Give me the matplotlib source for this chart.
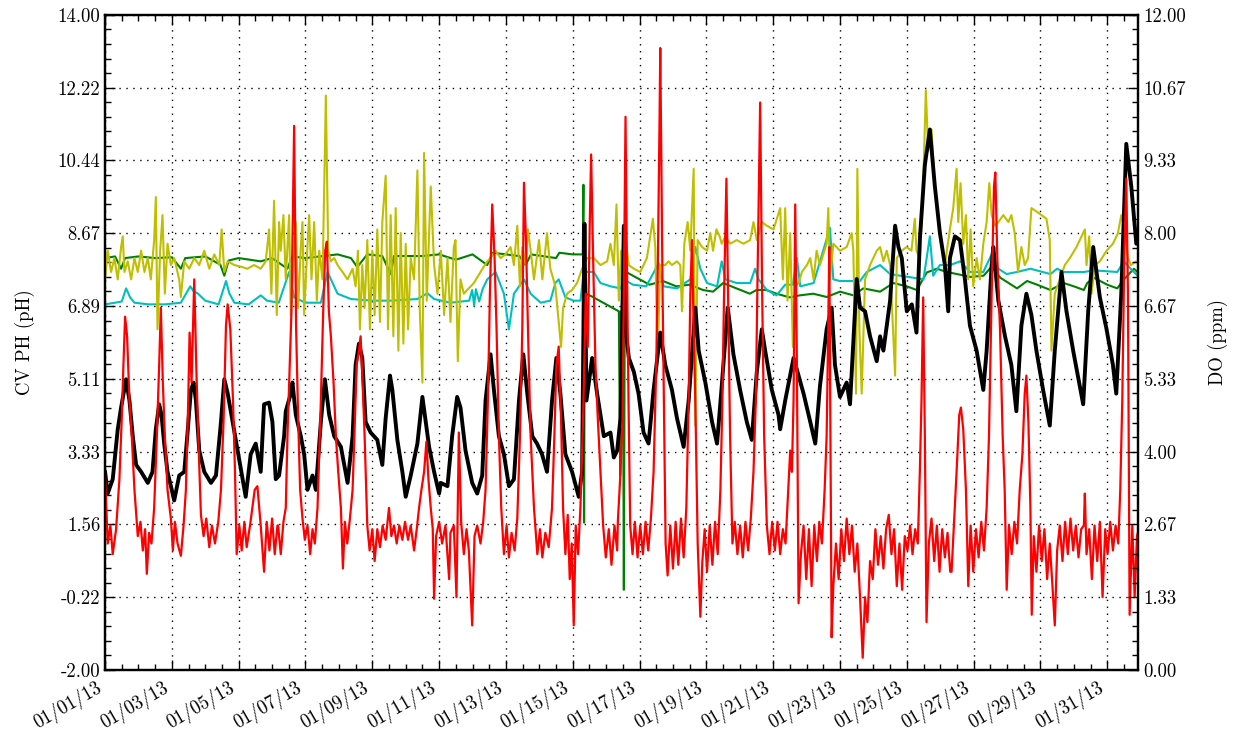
import numpy as np
import matplotlib
matplotlib.use('Agg')
import matplotlib.pyplot as plt
import matplotlib.dates as mdates
from matplotlib.ticker import FixedLocator, FuncFormatter, AutoMinorLocator

plt.rcParams['font.family'] = 'serif'
plt.rcParams['font.serif'] = ['cmr10', 'DejaVu Serif']
plt.rcParams['axes.unicode_minus'] = False
plt.rcParams['axes.formatter.use_mathtext'] = False

# series readings: days since 2013-01-01 00:00, values in left-axis units
red_t = [0.0, 0.08, 0.16, 0.23, 0.33, 0.43, 0.5, 0.55, 0.6, 0.66, 0.73, 0.8, 0.88, 0.98, 1.06, 1.13, 1.2, 1.25, 1.32, 1.39,
         1.47, 1.55, 1.62, 1.67, 1.73, 1.79, 1.87, 1.97, 2.03, 2.09, 2.17, 2.27, 2.35, 2.42, 2.49, 2.53, 2.59, 2.67, 2.73, 2.79,
         2.87, 2.95, 3.03, 3.12, 3.2, 3.29, 3.39, 3.47, 3.55, 3.62, 3.67, 3.75, 3.83, 3.89, 3.94, 4.02, 4.09, 4.17, 4.24, 4.34,
         4.41, 4.48, 4.56, 4.66, 4.76, 4.84, 4.92, 5.0, 5.08, 5.16,
         5.18, 5.26, 5.34, 5.41, 5.46, 5.53, 5.58, 5.66, 5.72, 5.78, 5.84, 5.91, 5.98, 6.06, 6.14, 6.21, 6.28, 6.36, 6.46, 6.53,
         6.59, 6.64, 6.7, 6.76, 6.84, 6.91, 6.98, 7.06, 7.12, 7.18, 7.25, 7.33, 7.41, 7.47, 7.53, 7.6, 7.65, 7.71, 7.77, 7.85,
         7.92, 8.0, 8.07, 8.15, 8.23, 8.31, 8.4, 8.5, 8.57, 8.65, 8.73, 8.81, 8.9, 8.98, 9.07, 9.15, 9.25, 9.33, 9.4, 9.47,
         9.55, 9.62, 9.68, 9.75, 9.81, 9.85, 9.91, 10.0, 10.09, 10.19, 10.3,
         10.34, 10.44, 10.52, 10.59, 10.66, 10.74, 10.82, 10.89, 10.99, 11.06, 11.14, 11.24, 11.32, 11.39, 11.46, 11.52, 11.59,
         11.66, 11.72, 11.79, 11.86, 11.94, 12.02, 12.09, 12.17, 12.26, 12.34, 12.42, 12.49, 12.54, 12.6, 12.66, 12.74, 12.84,
         12.94, 13.02, 13.09, 13.18, 13.28, 13.38, 13.45, 13.51, 13.58, 13.65, 13.71, 13.78, 13.85, 13.91, 13.97, 14.03, 14.09,
         14.16, 14.23, 14.31, 14.39, 14.45, 14.51, 14.55, 14.61, 14.68, 14.75, 14.83, 14.91, 14.99, 15.08, 15.16, 15.25, 15.33,
         15.35, 15.43, 15.49, 15.53, 15.58, 15.62, 15.67, 15.72, 15.79, 15.86, 15.94, 16.02, 16.1, 16.18, 16.26, 16.34, 16.42,
         16.5, 16.55, 16.6, 16.62, 16.69, 16.74, 16.78, 16.84, 16.92, 17.0, 17.08, 17.16, 17.24, 17.32, 17.4, 17.47, 17.52,
         17.57, 17.62, 17.67, 17.74, 17.82, 17.88, 17.95, 18.02, 18.1, 18.18, 18.26, 18.34, 18.42, 18.48, 18.53, 18.6, 18.65,
         18.71, 18.78, 18.85, 18.93, 19.01, 19.09, 19.17, 19.25, 19.33, 19.41, 19.48, 19.54, 19.61, 19.67, 19.73, 19.81, 19.89,
         19.97, 20.05, 20.13, 20.21, 20.29, 20.37, 20.45, 20.51,
         20.56, 20.61, 20.66, 20.71, 20.76, 20.83, 20.91, 20.99, 21.07, 21.15, 21.23, 21.31, 21.38, 21.46, 21.54, 21.6, 21.64,
         21.68, 21.72, 21.75, 21.8, 21.88, 21.96, 22.04, 22.12, 22.2, 22.28, 22.36, 22.44, 22.52, 22.6, 22.68, 22.75, 22.82,
         22.9, 22.98, 23.06, 23.14, 23.22, 23.3, 23.38, 23.46, 23.54, 23.62, 23.7, 23.78, 23.86, 23.94, 24.02, 24.1, 24.17,
         24.25, 24.33, 24.39, 24.44, 24.49, 24.54, 24.59, 24.66, 24.74, 24.82, 24.9, 24.98, 25.06, 25.14, 25.22, 25.3,
         25.34, 25.41, 25.49, 25.57, 25.62, 25.69, 25.77, 25.84, 25.91, 25.99, 26.07, 26.15, 26.23, 26.31, 26.39, 26.46, 26.54,
         26.61, 26.65, 26.71, 26.79, 26.87, 26.93, 26.99, 27.06, 27.14, 27.22, 27.3, 27.38, 27.46, 27.53, 27.58, 27.64, 27.7,
         27.74, 27.8, 27.88, 27.96, 28.04, 28.12, 28.2, 28.28, 28.36, 28.43, 28.5, 28.58, 28.66, 28.74, 28.82, 28.9, 28.98,
         29.06, 29.14, 29.22, 29.3, 29.33, 29.38, 29.46, 29.54, 29.62, 29.7, 29.78, 29.86, 29.94, 30.01, 30.09, 30.17, 30.25,
         30.33, 30.39, 30.45, 30.51, 30.57, 30.62, 30.67, 30.75, 30.82, 30.89, 30.97]
red_v = [2.75, 1.09, 1.53, 0.83, 1.44, 2.66, 4.15, 5.45, 6.63, 6.15, 4.58, 3.71, 2.4, 1.27, 1.62, 0.92, 1.44, 0.35, 1.35, 1.09,
         1.96, 3.71, 5.45, 6.85, 5.02, 3.71, 2.4, 1.7, 0.92, 1.62, 1.09, 0.79, 1.53, 2.4, 4.58, 6.24, 5.02, 7.54, 5.45, 3.71,
         1.79, 1.27, 1.7, 1.0, 1.53, 1.09, 1.62, 2.4, 4.15, 6.41, 6.93, 6.32, 4.58, 2.84, 0.83, 1.53, 0.92, 1.62, 1.0, 1.53,
         1.96, 2.4, 2.49, 1.53, 0.4, 1.62, 0.92, 1.7, 0.83, 1.53,
         1.53, 0.83, 1.62, 1.96, 3.71, 5.45, 6.76, 11.29, 6.32, 4.15, 2.4, 1.7, 1.18, 1.53, 0.83, 1.44, 1.09, 1.96, 4.58, 6.76,
         8.24, 8.46, 6.76, 6.15, 5.02, 3.71, 2.84, 1.96, 0.48, 1.62, 1.09, 1.7, 2.4, 3.88, 5.45, 5.8, 6.15, 5.02, 3.71, 1.53,
         0.92, 1.44, 0.66, 1.44, 1.0, 1.53, 1.18, 1.96, 1.27, 1.53, 1.09, 1.53, 1.18, 1.62, 1.18, 1.53, 0.92, 1.44, 1.96, 2.4,
         2.84, 3.58, 2.66, 1.96, 1.44, -0.26, 1.27, 1.62, 1.09, 1.53, 0.22,
         1.35, 1.53, -0.22, 3.8, 1.62, 0.83, 1.44, 0.92, -0.91, 1.27, 1.53, 1.09, 1.62, 2.4, 4.58, 7.19, 9.37,
         8.06, 6.32, 3.71, 1.96, 0.83, 1.53, 0.75, 1.35, 0.92, 1.7, 3.71, 6.32, 9.9, 8.5, 6.32, 3.71, 1.96,
         0.83, 1.44, 0.75, 1.35, 1.0, 1.96, 3.71, 5.45, 5.9, 4.15, 1.96, 0.83, 1.79, 0.22, 1.09, -0.91, 1.53,
         0.83, 1.96, 4.15, 7.19, 5.89, 8.94, 10.59, 8.06, 5.45, 4.15, 2.84, 1.53, 0.75, 1.44, 0.57, 1.53, 0.92,
         1.62, 2.84, 4.15, 7.19, 11.51, 8.06, 4.58, 1.53, 0.83, 1.62, 0.75, 1.53, 0.83, 1.62, 0.92, 1.7, 2.84,
         5.45, 8.06, 11.55, 13.19, 7.19, 3.71, 1.09, 0.31, 1.53, 0.48, 1.62, 0.57, 1.7, 0.75, 1.96, 4.58, 7.19,
         8.5, 6.32, 4.58, 1.09, -0.7, 0.66, 1.44, 0.4, 1.53, 0.57, 1.62, 0.83, 2.4, 4.58, 7.19, 10.0, 7.19,
         3.71, 1.09, 1.62, 0.83, 1.53, 0.75, 1.62, 0.92, 1.7, 2.84, 4.58, 8.06, 11.86, 7.19, 3.71, 1.53, 0.83,
         1.62, 0.92, 1.62, 0.83, 1.44, 1.09, 2.4, 3.36,
         2.84, 4.58, 9.37, 5.45, -0.37, 0.83, 1.53, 0.22, 1.44, 0.05, 1.53, 0.66, 1.62, 1.09, 2.4, 3.71, 5.89,
         8.33, 2.84, -1.2, 0.05, 1.09, 0.22, 1.44, 0.66, 1.7, 0.83, 1.53, 0.4, 1.09, -0.22, -1.7, -0.22, -0.83,
         0.66, 0.22, 1.44, 0.57, 1.27, 0.48, 1.44, 1.79, 0.83, 1.44, 0.05, 1.09, -0.04, 1.27, 0.92, 1.53, 0.83,
         1.44, 1.09, 2.84, 4.58, 7.1, 3.71, -0.83, 1.09, 1.7, 0.66, 1.53, 0.4, 1.44, 0.75, 1.35, 0.4,
         0.4, 1.53, 2.84, 4.23, 4.41, 3.88, 2.4, 0.05, 1.53, 0.4, 1.44, 0.75, 1.62, 0.92, 1.96, 3.71, 7.19,
         9.81, 10.15, 8.06, 6.32, 3.71, 2.4, -0.04, 1.53, 0.83, 1.62, 1.09, 2.4, 3.27, 4.75, 5.19, 4.06, 1.96,
         -0.65, 1.27, 0.4, 1.53, 0.66, 1.44, 0.22, 1.09, 0.05, -0.91, 0.92, 1.53, 0.66, 1.62, 0.83, 1.7, 0.92,
         1.53, 0.75, 1.44, 1.53, 2.31, 0.83, 1.44, 0.22, 1.53, 0.66, 1.62, -0.22, 1.44, 0.83, 1.62, 0.92, 1.53,
         1.09, 2.4, 4.58, 8.06, 10.0, 7.19, -0.65, 1.53, -0.22, 1.27, 1.53]

black_t = [0.0, 0.08, 0.23, 0.38, 0.48, 0.63, 0.73, 0.83, 0.93, 1.08, 1.28, 1.42, 1.52, 1.62, 1.69, 1.77, 1.87, 2.07, 2.22,
           2.37, 2.47, 2.57, 2.65, 2.72, 2.82, 2.97, 3.17, 3.32, 3.47, 3.57, 3.67, 3.82, 3.97, 4.12, 4.21, 4.36, 4.51, 4.66,
           4.76, 4.91, 5.01, 5.11,
           5.21, 5.36, 5.41, 5.56, 5.61, 5.71, 5.86, 5.96, 6.06, 6.21, 6.31, 6.46, 6.58, 6.71, 6.86, 7.06, 7.26, 7.41, 7.5,
           7.6, 7.7, 7.8, 7.95, 8.15, 8.3, 8.4, 8.53, 8.6, 8.75, 8.9, 9.0, 9.15, 9.35, 9.5, 9.6, 9.7, 9.85, 10.0,
           10.05, 10.25, 10.39, 10.54, 10.64, 10.79, 10.99, 11.14, 11.29, 11.39, 11.54, 11.64, 11.79, 11.94, 12.09, 12.24,
           12.39, 12.52, 12.64, 12.79, 12.93, 13.08, 13.23, 13.38, 13.51, 13.63, 13.78, 13.98, 14.18, 14.28, 14.35, 14.41,
           14.58, 14.73, 14.93,
           15.13, 15.23, 15.33, 15.43, 15.53, 15.58, 15.68, 15.83, 15.97, 16.12, 16.27, 16.42, 16.62, 16.77, 16.97, 17.12,
           17.32, 17.47, 17.67, 17.77, 17.97, 18.17, 18.32, 18.46, 18.64, 18.81, 19.01, 19.21, 19.36, 19.51, 19.66, 19.76,
           19.96, 20.16,
           20.21, 20.36, 20.61, 20.76, 20.91, 21.11, 21.26, 21.4, 21.6, 21.75, 21.85, 22.0, 22.2, 22.3, 22.5, 22.6, 22.75,
           22.9, 23.1, 23.2, 23.3, 23.5, 23.65, 23.75, 23.85, 24.0, 24.15, 24.29, 24.39, 24.54, 24.69, 24.84, 24.99, 25.14,
           25.24,
           25.29, 25.44, 25.59, 25.74, 25.89, 26.09, 26.29, 26.39, 26.54, 26.59, 26.74, 26.94, 27.13, 27.28, 27.43, 27.58,
           27.73, 27.88, 28.08, 28.28, 28.43, 28.63, 28.78, 28.98, 29.18, 29.28, 29.43, 29.58, 29.78, 29.98, 30.17, 30.27,
           30.42, 30.57, 30.72, 30.87, 30.97]
black_v = [2.84, 2.31, 2.66, 3.88, 4.41, 5.1, 4.58, 3.71, 3.01, 2.84, 2.57, 2.84, 3.88, 4.49, 4.23, 3.53, 2.84, 2.14, 2.75,
           2.84, 3.8, 4.84, 5.02, 4.58, 3.36, 2.84, 2.57, 2.75, 4.06, 5.1, 4.76, 4.06, 3.36, 2.66, 2.23, 3.27, 3.53, 2.84,
           4.49, 4.53, 4.06, 2.66,
           2.75, 3.71, 4.32, 4.75, 5.02, 4.23, 3.71, 3.27, 2.4, 2.75, 2.4, 4.06, 5.1, 4.23, 3.71, 3.45, 2.57, 3.71, 5.45,
           5.97, 5.62, 4.06, 3.8, 3.62, 3.01, 4.15, 5.19, 4.84, 3.62, 2.84, 2.23, 2.75, 3.53, 4.67, 4.06, 3.45, 2.84, 2.31,
           2.57, 2.49, 3.71, 4.67, 4.41, 3.36, 2.57, 2.31, 2.75, 4.58, 5.71, 4.84, 3.71, 3.27, 2.49, 2.66,
           4.58, 5.71, 4.75, 3.71, 3.53, 3.27, 2.84, 4.58, 5.62, 4.75, 3.27, 2.84, 2.23, 2.84, 8.9, 4.58,
           5.62, 4.75, 3.71,
           3.8, 3.19, 3.36, 4.15, 8.85, 6.32, 5.62, 5.28, 4.75, 3.8, 3.53, 4.84, 6.24, 5.45, 4.84, 4.15,
           3.45, 4.58, 6.85, 5.8, 5.02, 4.06, 3.53, 4.93, 6.85, 5.71, 4.84, 4.06, 3.62, 5.28, 6.32, 5.8,
           4.84, 4.23,
           3.88, 4.58, 5.62, 5.19, 4.75, 4.06, 3.53, 4.93, 6.32, 6.85, 5.45, 4.67, 5.02, 4.49, 7.55, 6.85, 6.76,
           6.15, 5.54, 6.15, 5.8, 7.02, 8.85, 8.33, 8.06, 6.76, 6.93, 6.24, 8.5, 10.33, 11.2, 9.81, 8.68, 7.89,
           6.76,
           8.06, 8.59, 8.5, 7.54, 6.41, 5.8, 4.84, 5.8, 7.89, 8.33, 7.02, 6.15, 5.45, 4.32, 6.41, 7.19,
           6.67, 5.8, 4.84, 3.97, 5.8, 7.72, 6.76, 5.8, 4.93, 4.49, 6.76, 8.33, 7.1, 6.32, 5.45, 4.75,
           7.19, 10.85, 9.81, 8.41, 8.67]

cyan_t = [0.0, 0.3, 0.5, 0.63, 0.75, 0.88, 1.3, 1.8, 2.27, 2.55, 2.65, 2.77, 3.0, 3.4, 3.62, 3.72, 3.87, 4.3, 4.66, 4.85,
          5.2, 5.51, 5.66, 6.0, 6.46, 6.66, 6.96, 7.36, 8.0, 8.55, 9.35, 9.65, 9.85, 10.34, 10.9, 10.99, 11.05, 11.1, 11.2,
          11.3, 11.44, 11.69, 11.94, 12.09, 12.24, 12.54, 12.74, 13.04, 13.33, 13.48, 13.58, 13.78, 14.03, 14.23, 14.33,
          14.63, 14.83, 15.13, 15.43, 15.53, 15.8, 16.2, 16.57, 16.72, 17.12, 17.52, 17.67, 17.82, 18.02, 18.32, 18.46,
          18.57, 18.91, 19.31, 19.46, 19.56, 19.81, 20.1, 20.36, 20.59, 20.71, 20.81, 21.21, 21.7, 21.8, 22.0, 22.6, 22.8,
          23.2, 23.5, 23.8, 24.2, 24.5, 24.69, 24.79, 24.99, 25.3, 25.6, 25.89, 26.29, 26.54, 26.74, 26.99, 27.3, 27.7,
          28.3, 28.5, 28.7, 29.3, 29.6, 30.3, 30.5, 30.7, 30.97]
cyan_v = [6.93, 6.97, 7.0, 7.32, 7.1, 6.97, 6.93, 6.93, 6.97, 7.37, 7.25, 7.2, 7.02, 6.93, 7.5, 7.2, 6.97, 6.93, 7.15, 7.02,
          6.97, 7.72, 7.1, 6.97, 6.97, 7.72, 7.19, 7.06, 7.02, 7.02, 7.06, 7.2, 7.06, 6.97, 7.02, 7.28, 6.9, 7.3, 7.0,
          7.3, 7.54, 7.72, 7.19, 6.32, 7.19, 7.54, 7.19, 6.97, 7.02, 7.45, 7.54, 7.1, 7.02, 7.02, 7.72,
          7.72, 7.45, 7.37, 7.32, 7.54, 7.41, 7.37, 7.93, 7.37, 7.32, 7.54, 8.33, 7.8, 7.45, 7.37, 7.98,
          7.54, 7.45, 7.45, 7.8, 7.54, 7.28, 7.15, 7.41, 7.41, 8.06, 7.37, 7.45, 8.8, 7.54, 7.5, 7.5, 7.72,
          7.89, 7.67, 7.63, 7.58, 7.54, 8.59, 7.63, 7.89, 7.89, 7.98, 7.72, 7.72, 8.15, 7.8, 7.67, 7.72, 7.8,
          7.67, 7.8, 7.72, 7.72, 7.76, 7.72, 7.98, 7.8, 7.58]

green_t = [0.0, 0.3, 0.48, 0.6, 1.0, 1.5, 2.0, 2.27, 2.4, 3.0, 3.45, 3.57, 3.7, 4.0, 4.66, 5.0, 5.46, 5.6, 6.0, 6.96, 7.36,
           7.55, 7.85, 8.3, 8.55, 8.65, 9.0, 9.5, 10.0, 10.5, 11.0, 11.44, 11.6, 12.0, 12.4, 12.59, 12.75, 13.5, 13.6, 14.0,
           14.3, 14.32, 14.34, 14.36, 14.4, 14.6, 14.8, 15.0, 15.2, 15.38, 15.42, 15.44, 15.5, 15.53, 15.56, 15.6, 15.8,
           16.3, 16.7, 17.1, 17.5, 17.9, 18.2, 18.5, 18.9, 19.3, 19.5, 19.8, 20.1, 20.5, 20.8, 21.2, 21.6, 22.0, 22.4, 22.7,
           23.2, 23.6, 24.0, 24.3, 24.6, 24.9, 25.2, 25.5, 25.9, 26.3, 26.54, 26.8, 27.3, 27.6, 27.9, 28.3, 28.7, 29.0,
           29.3, 29.4, 29.6, 30.0, 30.3, 30.5, 30.8, 30.97]
green_v = [8.06, 8.1, 7.8, 8.06, 8.1, 8.06, 8.08, 7.8, 8.06, 8.1, 7.9, 7.63, 8.0, 8.06, 7.98, 8.06, 7.8, 8.1, 8.06, 8.15,
           8.06, 7.84, 8.15, 8.11, 7.67, 8.11, 8.11, 8.11, 8.15, 8.02, 8.15, 7.89, 8.19, 8.15, 8.11, 7.89, 8.15, 8.06, 8.19,
           8.15, 8.15, 9.85, 1.6, 7.3, 7.19, 7.11, 7.02, 6.93, 6.84, 6.76, 2.75, 6.76, 6.6, -0.04, 7.7, 7.72, 7.63,
           7.41, 7.5, 7.37, 7.41, 7.28, 7.24, 7.45, 7.32, 7.19, 7.28, 7.28, 7.19, 7.1, 7.15, 7.19, 7.11, 7.24, 7.15, 7.32,
           7.24, 7.45, 7.37, 7.28, 7.71, 7.8, 7.72, 7.67, 7.6, 7.63, 7.85, 7.58, 7.32, 7.5, 7.41, 7.28, 7.45, 7.37,
           7.28, 7.45, 7.58, 7.41, 7.32, 7.54, 7.8, 7.67]

yellow_t = [0.0, 0.08, 0.18, 0.28, 0.38, 0.48, 0.53, 0.58, 0.68, 0.78, 0.88, 0.98, 1.08, 1.18, 1.28, 1.37, 1.47, 1.52, 1.57,
            1.65, 1.72, 1.79, 1.87, 1.97, 2.07, 2.22, 2.27, 2.37, 2.52, 2.67, 2.82, 2.97, 3.12, 3.27, 3.42, 3.49, 3.57,
            3.67, 3.87, 4.07, 4.26, 4.46, 4.66, 4.81, 4.91, 4.98, 5.06, 5.14, 5.21,
            5.26, 5.34, 5.41, 5.51, 5.56, 5.64, 5.71, 5.78, 5.86, 5.91, 5.96, 6.04, 6.11, 6.18, 6.26, 6.34, 6.41, 6.51,
            6.61, 6.68, 6.76, 6.86, 6.96, 7.11, 7.26, 7.41, 7.5, 7.57, 7.63, 7.7, 7.77, 7.85, 7.93, 8.0, 8.07, 8.15, 8.23,
            8.3, 8.4, 8.47, 8.55, 8.63, 8.7, 8.78, 8.85, 8.93, 9.0, 9.07, 9.15, 9.25, 9.35, 9.42, 9.5, 9.55, 9.63, 9.75,
            9.85, 9.95,
            10.05, 10.15, 10.25, 10.34, 10.44, 10.49, 10.56, 10.64, 10.74, 10.84, 11.04, 11.24, 11.44, 11.54, 11.69, 11.84,
            11.99, 12.14, 12.24, 12.34, 12.42, 12.49, 12.59, 12.66, 12.74, 12.84, 12.99, 13.09, 13.23, 13.33, 13.48, 13.58,
            13.65, 13.71, 13.83, 13.98, 14.13, 14.28, 14.43, 14.63, 14.83, 15.03,
            15.13, 15.23, 15.31, 15.38, 15.45, 15.53, 15.61, 15.68, 15.83, 16.02, 16.22, 16.32, 16.4, 16.47, 16.54, 16.62,
            16.77, 16.87, 16.97, 17.12, 17.22, 17.27, 17.34, 17.44, 17.52, 17.62, 17.67, 17.74, 17.87, 18.02, 18.12, 18.2,
            18.3, 18.4, 18.46, 18.57, 18.71, 18.91, 19.11, 19.31, 19.41, 19.51, 19.66, 19.81, 20.01,
            20.21, 20.29, 20.36, 20.43, 20.51, 20.59, 20.66, 20.76, 20.86, 21.01, 21.11, 21.21, 21.3, 21.4, 21.5, 21.6,
            21.65, 21.7, 21.8, 22.0, 22.2, 22.35, 22.4, 22.48, 22.52, 22.58, 22.65, 22.75, 22.9, 23.1, 23.2, 23.3, 23.4,
            23.5, 23.65, 23.7, 23.85, 23.99, 24.14, 24.24, 24.29, 24.39, 24.49, 24.57, 24.64, 24.74, 24.84, 24.99, 25.14,
            25.29, 25.39, 25.49, 25.54, 25.61, 25.69, 25.77, 25.84, 25.91, 25.99, 26.09, 26.19, 26.29, 26.39, 26.47, 26.54,
            26.64, 26.74, 26.89, 27.04, 27.13, 27.23, 27.33, 27.43, 27.53, 27.63, 27.73, 27.88, 28.03, 28.18, 28.28, 28.33,
            28.43, 28.58, 28.73, 28.88, 29.08, 29.23, 29.33, 29.38, 29.46, 29.53, 29.63, 29.78, 29.98, 30.17, 30.32, 30.42,
            30.52, 30.62, 30.71, 30.87, 30.97]
yellow_v = [7.54, 8.24, 7.72, 8.06, 7.54, 8.33, 8.59, 7.72, 7.98, 7.54, 8.06, 7.72, 8.24, 7.72, 8.06, 7.54, 8.5, 9.55, 6.32,
            8.24, 9.11, 7.19, 8.41, 7.89, 8.06, 7.54, 7.11, 7.98, 7.8, 8.06, 7.89, 8.24, 7.8, 8.15, 7.89, 8.76, 7.72,
            7.98, 7.89, 7.85, 7.8, 7.89, 7.8, 7.98, 8.76, 7.19, 9.46, 6.67, 8.94,
            8.24, 9.11, 7.54, 9.11, 6.67, 7.89, 8.94, 6.84, 8.33, 8.94, 6.67, 8.06, 9.11, 7.54, 8.94, 7.02, 8.24, 7.54,
            12.03, 8.24, 7.98, 8.06, 7.89, 7.72, 7.54, 7.8, 7.37, 8.24, 6.32, 7.89, 6.84, 8.5, 6.32, 8.24, 6.67, 8.76, 6.5,
            8.94, 10.07, 6.32, 9.11, 6.15, 9.28, 5.8, 8.67, 5.97, 8.41, 6.32, 8.06, 7.54, 10.2, 6.84, 5.02, 10.63, 7.02, 9.81,
            7.89, 7.19,
            8.24, 6.67, 8.06, 6.5, 8.33, 8.5, 5.54, 7.54, 7.19, 7.28, 7.45, 7.72, 7.98, 8.06, 8.24, 8.06,
            8.15, 8.33, 7.89, 8.85, 7.37, 8.33, 7.89, 8.76, 8.24, 7.54, 8.5, 7.54, 8.67, 7.8, 7.37, 6.5,
            5.89, 6.84, 7.19, 7.28, 7.45, 7.8, 8.06, 8.06, 7.89, 7.98,
            8.41, 7.89, 9.37, 7.02, 8.24, 7.54, 8.33, 7.89, 7.8, 7.72, 8.06, 8.59, 9.02, 8.33, 5.6, 7.89,
            7.89, 7.98, 7.89, 7.98, 7.89, 6.76, 8.41, 8.94, 8.24, 10.24, 3.97, 8.5, 8.33, 8.24, 8.67, 8.24,
            8.76, 8.59, 8.41, 8.59, 8.41, 8.5, 8.41, 8.5, 8.94, 8.5, 8.94, 8.85, 8.76,
            9.28, 7.54, 9.28, 7.02, 8.67, 5.89, 7.37, 7.45, 7.72, 7.89, 8.06, 7.54, 8.24, 7.89, 8.15, 8.41,
            9.28, 7.54, 8.41, 8.24, 8.33, 8.67, 8.24, 4.75, 10.24, 6.32, 4.75, 7.54, 7.89, 8.24, 8.33, 7.98, 8.24,
            7.89, 5.19, 8.06, 8.24, 8.33, 8.24, 9.02, 8.24, 8.06, 9.81, 12.16, 10.68, 11.2, 9.81, 8.76, 7.89,
            8.76, 9.28, 10.24, 8.94, 9.89, 8.41, 9.11, 7.54, 8.76, 7.37, 8.06, 7.54, 8.41, 8.94, 9.89, 9.11,
            8.85, 8.94, 9.11, 8.94, 9.11, 8.67, 7.72, 8.33, 7.89, 8.06, 9.28, 9.2, 9.11, 9.02, 8.5, 5.8,
            7.19, 7.54, 7.89, 8.06, 8.33, 8.59, 8.76, 7.89, 8.59, 7.19, 7.89, 7.98, 8.24, 8.41, 8.67, 9.11,
            8.76, 8.06, 7.89, 7.98, 7.89]

left_ticks = np.linspace(-2, 14, 10)
right_ticks = np.linspace(0, 12, 10)

start = np.datetime64('2013-01-01T00:00')


def to_dates(days):
    secs = np.round(np.asarray(days) * 86400).astype('timedelta64[s]')
    return (start + secs).astype('datetime64[s]').astype(object)


fig = plt.figure(figsize=(12.33, 7.42), dpi=100)
ax = fig.add_axes([0.0852, 0.097, 0.838, 0.883])

ax.plot(to_dates(green_t), green_v, color='#008000', lw=1.5, zorder=2)
ax.plot(to_dates(cyan_t), cyan_v, color='#00bfbf', lw=1.5, zorder=2)
ax.plot(to_dates(yellow_t), yellow_v, color='#bfbf00', lw=1.5, zorder=3)
ax.plot(to_dates(black_t), black_v, color='black', lw=2.8, zorder=4)
ax.plot(to_dates(red_t), red_v, color='#ff0000', lw=1.6, zorder=5)

ax.set_xlim(to_dates([0.0, 30.93]))
ax.set_ylim(-2, 14)
ax.yaxis.set_major_locator(FixedLocator(left_ticks))
ax.yaxis.set_major_formatter(FuncFormatter(lambda v, p: '%.2f' % v))
ax.yaxis.set_minor_locator(AutoMinorLocator(5))
ax.xaxis.set_major_locator(mdates.DayLocator(bymonthday=range(1, 32, 2)))
ax.xaxis.set_minor_locator(mdates.HourLocator(byhour=[0, 12]))
ax.xaxis.set_major_formatter(mdates.DateFormatter('%m/%d/%y'))
ax.tick_params(axis='both', which='both', direction='in', labelsize=13.5)
ax.tick_params(axis='x', which='both', top=True)
ax.tick_params(which='major', length=7, width=1)
ax.tick_params(which='minor', length=4, width=1)
ax.tick_params(axis='x', which='major', pad=6)
for lab in ax.get_xticklabels():
    lab.set_rotation(30)
    lab.set_ha('right')
ax.grid(True, which='major', linestyle=(0, (1, 4)), color='black', lw=1.0)
ax.set_ylabel('CV PH (pH)', fontsize=13.5, labelpad=16)

ax2 = ax.twinx()
ax2.set_ylim(0, 12)
ax2.yaxis.set_major_locator(FixedLocator(right_ticks))
ax2.yaxis.set_major_formatter(FuncFormatter(lambda v, p: '%.2f' % v))
ax2.yaxis.set_minor_locator(AutoMinorLocator(5))
ax2.tick_params(axis='y', which='both', direction='in', labelsize=13.5)
ax2.tick_params(which='major', length=7, width=1)
ax2.tick_params(which='minor', length=4, width=1)
ax2.set_ylabel('DO (ppm)', fontsize=13.5, labelpad=16)

for a in (ax, ax2):
    for sp in a.spines.values():
        sp.set_linewidth(1.6)

fig.savefig('out.png', dpi=100)
